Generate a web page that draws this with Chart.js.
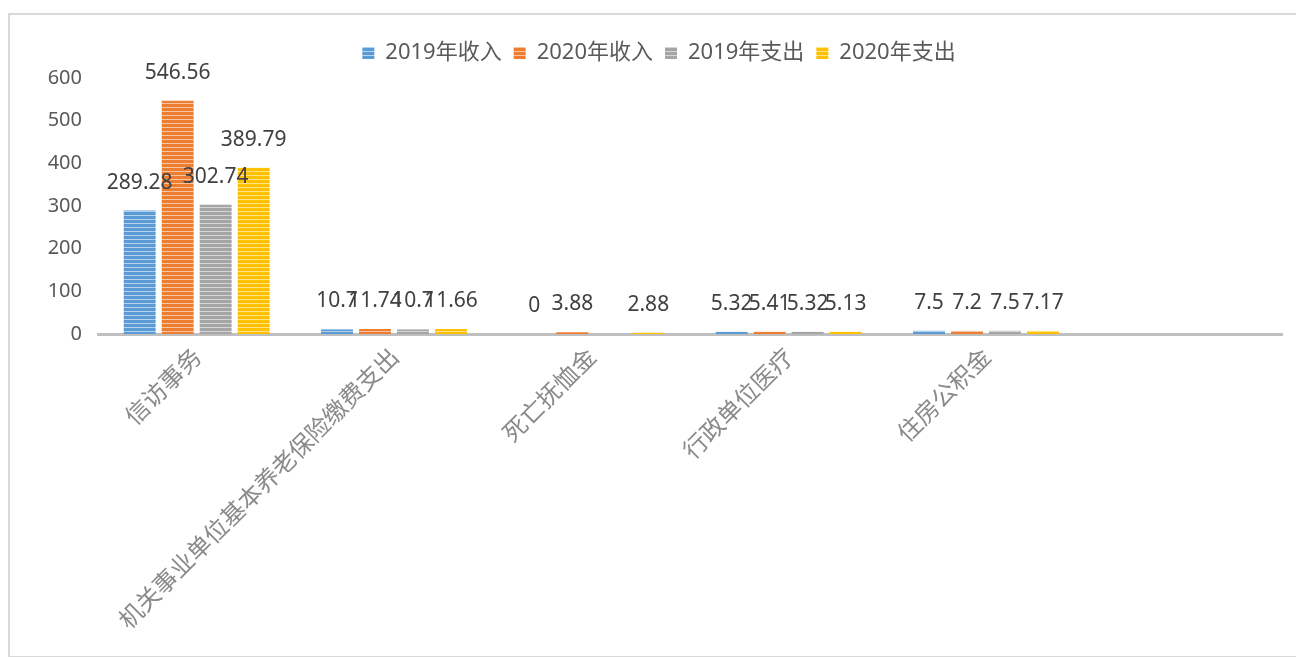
<!DOCTYPE html>
<html>
<head>
<meta charset="utf-8">
<script src="https://cdn.jsdelivr.net/npm/chart.js@4"></script>
<style>
  body { margin: 0; background: #fff; }
  #frame { position: absolute; left: 8px; top: 13px; width: 1300px; height: 641px; border: 2px solid #d9d9d9; border-right: none; }
  #chart { position: absolute; left: 0; top: 0; }
</style>
</head>
<body>
<div id="frame"></div>
<canvas id="chart" width="1296" height="657"></canvas>
<script>
// categories and series
const categories = ["信访事务", "机关事业单位基本养老保险缴费支出", "死亡抚恤金", "行政单位医疗", "住房公积金", ""];
const seriesNames = ["2019年收入", "2020年收入", "2019年支出", "2020年支出"];
const income2019 = [289.28, 10.7, 0, 5.32, 7.5, null];
const income2020 = [546.56, 11.74, 3.88, 5.41, 7.2, null];
const expense2019 = [302.74, 10.7, null, 5.32, 7.5, null];
const expense2020 = [389.79, 11.66, 2.88, 5.13, 7.17, null];
const yTicks = [0, 100, 200, 300, 400, 500, 600];

const colors = ["#5B9BD5", "#ED7D31", "#A5A5A5", "#FFC000"];

// horizontal stripe fill like the excel pattern
function stripes(color) {
  const c = document.createElement("canvas");
  c.width = 4;
  c.height = 4;
  const g = c.getContext("2d");
  g.fillStyle = color;
  g.fillRect(0, 0, 4, 4);
  g.fillStyle = "rgba(255,255,255,0.55)";
  g.fillRect(0, 3, 4, 1);
  return g.createPattern(c, "repeat");
}

const valueLabels = {
  id: "valueLabels",
  afterDatasetsDraw(chart) {
    const ctx = chart.ctx;
    ctx.save();
    ctx.font = "21px 'Noto Sans', 'Noto Sans CJK SC', sans-serif";
    ctx.fillStyle = "#404040";
    ctx.textAlign = "center";
    ctx.textBaseline = "middle";
    chart.data.datasets.forEach((ds, i) => {
      chart.getDatasetMeta(i).data.forEach((bar, j) => {
        const v = ds.data[j];
        if (v === null || v === undefined) return;
        ctx.fillText(String(v), bar.x, bar.y - 28);
      });
    });
    ctx.restore();
  },
};

// a bit more room under the legend and nudge it right, like the original
const legendTweak = {
  id: "legendTweak",
  beforeInit(chart) {
    const fit = chart.legend.fit;
    chart.legend.fit = function () {
      fit.call(this);
      this.height += 4;
    };
  },
  afterLayout(chart) {
    chart.legend.left += 18;
    chart.legend.right += 18;
  },
};

const allSeries = [income2019, income2020, expense2019, expense2020];

new Chart(document.getElementById("chart"), {
  type: "bar",
  data: {
    labels: categories,
    datasets: allSeries.map((d, i) => ({
      label: seriesNames[i],
      data: d,
      backgroundColor: stripes(colors[i]),
      borderWidth: 0,
      categoryPercentage: 0.77,
      barPercentage: 0.84,
    })),
  },
  options: {
    responsive: false,
    animation: false,
    layout: { padding: { top: 30, right: 14, left: 0, bottom: 0 } },
    plugins: {
      legend: {
        position: "top",
        labels: {
          boxWidth: 12,
          boxHeight: 12,
          padding: 12,
          color: "#595959",
          font: { size: 22, family: "'Noto Sans', 'Noto Sans CJK SC', sans-serif" },
        },
      },
      tooltip: { enabled: false },
    },
    scales: {
      x: {
        grid: { display: false, drawTicks: false },
        border: { display: true, color: "#bfbfbf", width: 3 },
        ticks: {
          minRotation: 45,
          maxRotation: 45,
          autoSkip: false,
          padding: 8,
          color: "#8a8a8a",
          font: { size: 24, family: "'Noto Sans CJK SC', sans-serif" },
        },
        afterFit(scale) { scale.height = 323; },
      },
      y: {
        min: 0,
        max: 600,
        grid: { display: false, drawTicks: false },
        border: { display: false },
        afterBuildTicks(scale) { scale.ticks = yTicks.map((v) => ({ value: v })); },
        ticks: {
          padding: 16,
          color: "#595959",
          font: { size: 20, family: "'Noto Sans', 'Noto Sans CJK SC', sans-serif" },
        },
        afterFit(scale) { scale.width = 98; },
      },
    },
  },
  plugins: [valueLabels, legendTweak],
});
</script>
</body>
</html>
